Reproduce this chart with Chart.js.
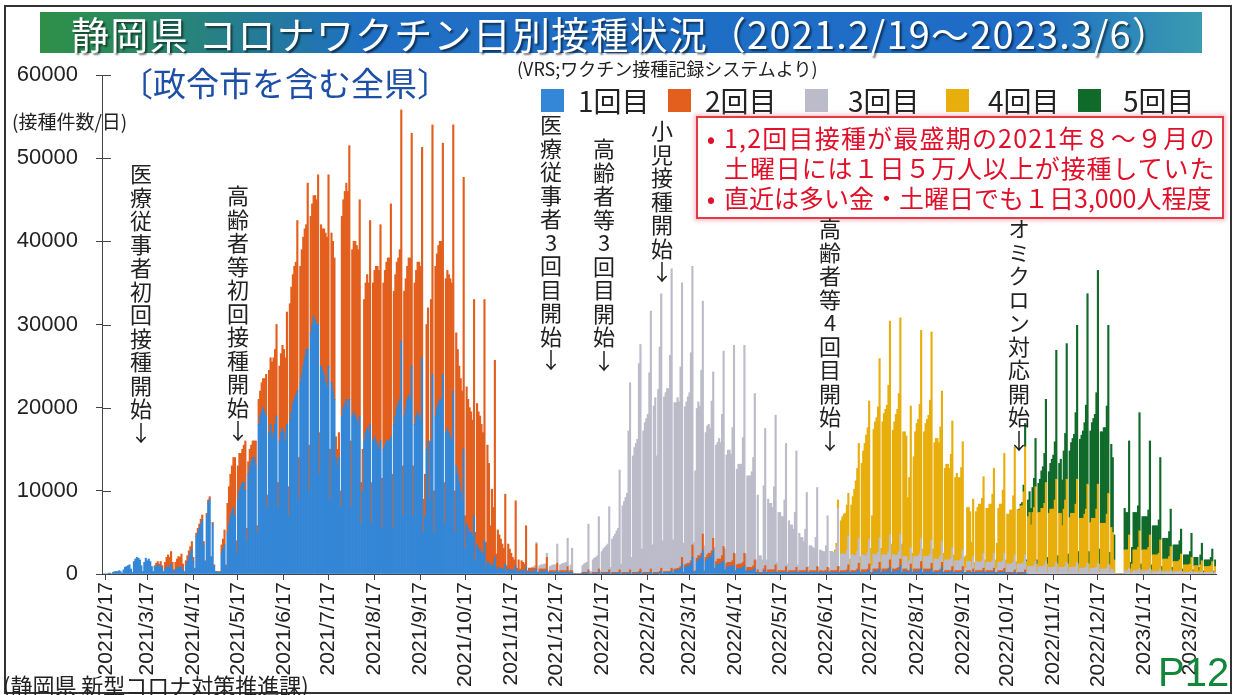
<!DOCTYPE html>
<html lang="ja">
<head>
<meta charset="utf-8">
<title>静岡県 コロナワクチン日別接種状況</title>
<script src="https://cdn.jsdelivr.net/npm/chart.js@4.4.1/dist/chart.umd.min.js"></script>
<style>
  html, body { margin: 0; padding: 0; background: #fff; }
  #wrap { position: relative; width: 1236px; height: 695px; overflow: hidden;
          font-family: 'Noto Sans CJK JP', sans-serif; color: #222; }
  #chart { position: absolute; left: 0; top: 0; }
  .abs { position: absolute; white-space: nowrap; }
  #frame { position: absolute; left: 4px; top: 5px; width: 1224px; height: 685px; border: 2px solid #333; }
  #banner { position: absolute; left: 40px; top: 12px; width: 1162px; height: 41px;
            background: linear-gradient(90deg, #2f8f47 0%, #2a8a62 8%, #1f6fc4 28%, #1e6cc6 85%, #3a9bb0 100%);
            display: flex; align-items: center; justify-content: center; }
  #banner span { color: #fff; font-size: 38px; line-height: 1; letter-spacing: 1.2px;
                 text-shadow: 2px 2px 2px rgba(0,0,0,0.55); }
  .vnote { position: absolute; writing-mode: vertical-rl; text-orientation: upright;
           font-size: 22px; letter-spacing: 1.5px; line-height: 1; color: #222; }
  .sw { position: absolute; width: 23px; height: 23px; top: 89px; }
  .lg { position: absolute; top: 82px; font-size: 28px; line-height: 36px; color: #222; }
  #note { position: absolute; left: 696px; top: 116px; width: 524px; height: 95px;
          border: 2px solid #e53a44; background: #fff; box-shadow: 0 0 4px 2px rgba(240,130,150,0.45);
          color: #e0102a; font-size: 25px; line-height: 30px; padding-top: 4px; box-sizing: content-box; }
  #note div { white-space: nowrap; }
  #note .b { display: inline-block; width: 26px; text-align: center; letter-spacing: 0; }
</style>
</head>
<body>
<div id="wrap">
  <canvas id="chart" width="1236" height="695"></canvas>
  <div id="frame"></div>
  <div id="banner"><span>静岡県 コロナワクチン日別接種状況（2021.2/19～2023.3/6）</span></div>
  <div class="abs" style="left:120px;top:62px;font-size:33px;color:#1d4fa5;line-height:40px;">〔政令市を含む全県〕</div>
  <div class="abs" style="left:517px;top:56px;font-size:18px;line-height:24px;">(VRS;ワクチン接種記録システムより)</div>
  <div class="abs" style="left:12px;top:109px;font-size:19px;line-height:24px;">(接種件数/日)</div>

  <div class="sw" style="left:541px;background:#3486d6"></div><div class="lg" style="left:578px">1回目</div>
  <div class="sw" style="left:668px;background:#e35f1d"></div><div class="lg" style="left:705px">2回目</div>
  <div class="sw" style="left:805px;background:#bcbbc9"></div><div class="lg" style="left:848px">3回目</div>
  <div class="sw" style="left:946px;background:#e8ae0c"></div><div class="lg" style="left:988px">4回目</div>
  <div class="sw" style="left:1078px;background:#106b2a"></div><div class="lg" style="left:1123px">5回目</div>

  <div id="note">
    <div style="letter-spacing:1.2px"><span class="b">•</span>1,2回目接種が最盛期の2021年８～９月の</div>
    <div style="letter-spacing:0.9px"><span class="b"></span>土曜日には１日５万人以上が接種していた</div>
    <div><span class="b">•</span>直近は多い金・土曜日でも１日3,000人程度</div>
  </div>

  <div class="vnote" style="left:130px;top:163px">医療従事者初回接種開始↓</div>
  <div class="vnote" style="left:227px;top:185px">高齢者等初回接種開始↓</div>
  <div class="vnote" style="left:540px;top:114px">医療従事者3回目開始↓</div>
  <div class="vnote" style="left:593px;top:138px">高齢者等3回目開始↓</div>
  <div class="vnote" style="left:651px;top:120px">小児接種開始↓</div>
  <div class="vnote" style="left:819px;top:218px">高齢者等4回目開始↓</div>
  <div class="vnote" style="left:1008px;top:218px">オミクロン対応開始↓</div>

  <div class="abs" style="left:3px;top:670px;font-size:22px;line-height:28px;">(静岡県 新型コロナ対策推進課)</div>
  <div class="abs" style="left:1158px;top:651px;font-size:40px;line-height:42px;color:#12873a;font-family:'Liberation Sans Narrow','Liberation Sans',sans-serif;">P12</div>
</div>

<script>
// monthly tick labels on the date axis
const monthTicks = [
  '2021/2/17', '2021/3/17', '2021/4/17', '2021/5/17', '2021/6/17', '2021/7/17',
  '2021/8/17', '2021/9/17', '2021/10/17', '2021/11/17', '2021/12/17', '2022/1/17',
  '2022/2/17', '2022/3/17', '2022/4/17', '2022/5/17', '2022/6/17', '2022/7/17',
  '2022/8/17', '2022/9/17', '2022/10/17', '2022/11/17', '2022/12/17', '2023/1/17',
  '2023/2/17'
];

const seriesNames = ['1回目', '2回目', '3回目', '4回目', '5回目'];
const seriesColors = ['#3486d6', '#e35f1d', '#bcbbc9', '#e8ae0c', '#106b2a'];

// daily doses, one row per week (Mon..Sun)
const firstDoseStart = '2021/2/15';
const firstDose = [
  [0,0,0,0,100,100,0],
  [200,300,300,300,400,300,100],
  [500,800,900,1000,1100,600,200],
  [1500,1800,2000,1900,1700,1000,300],
  [1400,1900,1600,1800,1500,900,300],
  [800,1000,1100,900,1000,600,200],
  [600,800,900,700,1200,500,200],
  [500,700,800,800,900,400,100],
  [1000,1500,2000,2500,3000,1500,500],
  [4500,5000,5500,6000,6500,3500,1500],
  [7000,8500,9000,2000,6000,1000,300],
  [200,200,200,2500,3000,3500,800],
  [5000,6000,7000,7500,8000,7000,2500],
  [9000,10000,10500,11000,11000,10000,4000],
  [12000,13000,13500,14000,14000,13000,5000],
  [18000,19000,19500,20000,19500,19000,8000],
  [17000,18000,16500,17000,18000,19000,8000],
  [16000,17000,17500,17000,16000,18000,7000],
  [18500,19500,20500,21000,21500,22000,9000],
  [23000,24000,25000,26000,27000,27000,10000],
  [29000,30000,31000,30500,30000,30000,12000],
  [25000,24500,24000,23000,22500,25000,9000],
  [23000,22000,21000,14000,13000,14000,8000],
  [19000,20000,20500,21000,20000,21000,8000],
  [19000,19500,19000,18500,18000,19000,6000],
  [10000,16000,17000,17500,17000,18000,6000],
  [16000,16500,16000,15500,15000,16000,5500],
  [15000,15500,16000,16000,16000,16500,5500],
  [18000,19000,20000,20500,21000,28000,7000],
  [19000,20000,21000,21500,21000,25000,7000],
  [18000,19000,19500,19000,18500,26000,5000],
  [7000,15000,16000,9000,16000,24000,5000],
  [19000,20000,20500,21000,21000,24000,6000],
  [17000,17500,17000,16500,16000,22000,5000],
  [13000,12000,11000,10000,9000,15000,3000],
  [6000,5500,5000,5000,4500,7000,1500],
  [3500,3000,3000,2500,2500,4000,800],
  [1500,1300,800,1200,1000,2000,400],
  [800,700,700,600,600,1200,200],
  [600,500,500,500,400,1000,200],
  [400,200,400,400,300,800,100],
  [300,300,300,300,300,600,100],
  [300,300,300,300,300,500,100],
  [200,200,200,200,200,400,100],
  [200,200,200,200,200,300,100],
  [200,200,0,0,0,0,0],
  [0,100,100,100,100,200,0],
  [0,100,100,100,100,200,0],
  [100,100,100,100,100,200,0],
  [100,100,100,100,100,200,0],
  [100,100,100,100,100,200,0],
  [100,100,100,100,100,200,0],
  [100,100,100,100,100,200,0],
  [100,100,100,100,100,300,0],
  [200,200,200,200,200,400,100],
  [400,400,500,500,600,1200,100],
  [800,900,1000,1000,1200,2000,200],
  [300,1500,1800,1800,2000,2800,300],
  [1500,1800,2000,2000,2200,2800,500],
  [1000,1200,1200,1200,1500,1500,300],
  [800,900,900,900,1000,1000,200],
  [600,700,700,700,800,1000,200],
  [400,400,400,400,500,700,100],
  [200,100,100,100,300,400,100],
  [200,200,200,200,200,300,100],
  [200,200,200,200,200,300,100],
  [200,200,200,200,200,300,100],
  [200,200,200,200,200,300,100],
  [200,200,200,200,200,300,100],
  [200,200,100,200,200,300,100],
  [200,200,200,200,200,300,100],
  [200,200,200,200,200,400,100],
  [200,200,200,200,300,500,100],
  [200,200,200,200,300,500,100],
  [100,300,300,300,300,600,100],
  [300,300,300,300,400,800,100],
  [300,300,300,400,400,1000,100],
  [300,300,300,200,200,600,100],
  [300,300,300,300,300,700,100],
  [300,300,300,300,300,600,100],
  [200,200,200,200,300,800,100],
  [200,200,200,200,200,400,100],
  [200,200,200,200,200,400,100],
  [100,200,200,200,100,300,100],
  [200,200,200,200,200,300,100],
  [200,200,200,200,200,300,100],
  [100,200,200,200,200,300,100],
  [100,100,100,100,100,200,0],
  [100,100,100,100,100,200,0]
];

const secondDoseStart = '2021/3/22';
const secondDose = [
  [200,300,400,300,500,400,100],
  [800,1200,1400,1300,1500,900,300],
  [900,1100,1300,1200,1500,800,200],
  [600,700,800,800,900,500,200],
  [400,500,500,600,600,400,100],
  [300,400,300,100,200,100,0],
  [100,100,100,1000,1200,1800,300],
  [3500,4500,5000,5500,6000,7000,1500],
  [4000,4500,4000,4000,4500,6000,1500],
  [1500,2000,2000,2000,2000,3000,800],
  [3000,3000,3500,3500,4000,5000,1500],
  [7500,8000,9000,9000,9000,11000,3000],
  [9000,9500,10000,10000,10000,13500,3500],
  [14000,15000,15500,16000,16000,20500,5000],
  [14000,15000,15500,15500,15000,20000,5500],
  [14000,14500,14500,15000,15000,18000,5000],
  [17000,17000,17500,18000,18000,23000,6000],
  [18000,18000,17000,2500,2000,3000,2000],
  [24000,25000,25500,26000,26000,30500,8000],
  [20000,20500,21000,21000,21000,26000,5000],
  [5000,17000,18000,18500,18000,24500,5000],
  [19000,20000,21000,21500,21500,26000,6000],
  [20000,21000,21500,22000,22000,28000,6500],
  [16000,17000,17500,17500,18000,27800,6000],
  [15000,15500,16000,16500,17000,28000,6000],
  [17000,17500,18000,18500,18500,25300,4000],
  [5000,15000,16000,7000,17000,30000,5000],
  [18000,18500,19000,19000,19000,27800,5000],
  [18500,19000,19000,19000,19000,32000,5000],
  [16000,15000,14000,13500,13000,32700,4000],
  [16500,15500,15000,14500,14000,26000,3500],
  [17000,16500,16000,15500,14500,29000,3000],
  [14000,12000,5000,9000,7000,23700,2000],
  [4500,4000,3500,3000,2500,8400,800],
  [3000,2500,2000,1500,1300,7800,500],
  [1300,400,1200,1000,900,5000,300],
  [400,400,400,400,400,3000,100],
  [300,300,300,300,300,1500,100],
  [200,200,200,200,200,900,100],
  [200,200,200,200,200,600,100],
  [200,200,0,0,0,0,0],
  [0,100,100,100,100,300,0],
  [0,100,100,100,100,400,0],
  [100,100,100,100,100,300,0],
  [100,100,100,100,100,300,0],
  [100,100,100,100,100,300,0],
  [100,100,100,100,200,400,0],
  [100,100,100,100,100,400,0],
  [100,100,100,100,200,400,0],
  [100,100,100,100,100,300,0],
  [200,200,200,200,300,800,100],
  [300,300,300,300,400,1500,100],
  [100,400,400,400,500,2000,100],
  [500,500,500,500,600,1500,200],
  [500,600,600,600,700,1800,200],
  [500,500,500,500,600,1500,200],
  [500,500,500,500,600,1500,200],
  [400,400,400,400,500,1000,100],
  [300,100,100,100,300,600,100],
  [300,300,300,300,300,800,100],
  [200,200,200,200,200,600,100],
  [200,200,200,200,200,500,100],
  [200,200,200,200,200,500,100],
  [200,200,200,200,200,600,100],
  [200,200,200,200,200,500,100],
  [200,200,200,200,200,600,100],
  [200,200,200,200,300,700,100],
  [200,200,200,200,300,800,100],
  [300,300,300,300,300,700,100],
  [100,300,300,300,300,800,100],
  [300,300,300,300,300,900,100],
  [300,300,300,300,400,800,100],
  [300,300,300,200,200,600,100],
  [300,300,300,300,300,800,100],
  [300,300,300,300,300,700,100],
  [200,200,200,200,300,600,100],
  [200,200,200,200,200,500,100],
  [200,200,200,200,200,500,100],
  [100,200,200,200,100,300,100],
  [200,200,200,200,200,400,100],
  [200,200,200,200,200,400,100],
  [100,200,200,200,200,400,100],
  [100,100,100,100,100,300,0],
  [100,100,100,100,100,300,0]
];

const thirdDoseStart = '2021/11/29';
const thirdDose = [
  [0,0,100,200,300,200,0],
  [400,500,500,600,600,500,100],
  [500,600,700,700,700,2300,200],
  [700,800,900,900,1000,3400,300],
  [700,2700,100,0,0,0,0],
  [0,800,1000,1100,1200,5500,300],
  [300,1500,1700,1800,2000,6300,400],
  [2500,2800,3000,3200,3400,7600,800],
  [4000,4300,4600,5000,5300,12000,1200],
  [8000,8500,9000,9500,17000,22500,2000],
  [14000,15000,15500,16000,25000,27000,3000],
  [17000,18000,18500,19000,24000,31000,3500],
  [20000,21000,14000,22000,27000,33000,4000],
  [21000,21500,22000,22000,26000,36000,4000],
  [20000,20000,20500,20000,24000,33000,3500],
  [19000,19500,20000,20500,25000,33500,3500],
  [12000,18000,18500,18000,22000,28000,3000],
  [15000,15500,15500,15000,18000,20000,2500],
  [14000,14000,14500,14000,17000,23500,2500],
  [13000,13500,13500,13000,16000,25000,2000],
  [11500,12000,12000,12000,15000,25000,2000],
  [11000,11000,11000,11500,13000,20000,1500],
  [9000,2000,2000,1500,10000,16500,1500],
  [8500,8000,8000,7500,10000,18000,1200],
  [7000,7000,6500,6500,8500,14800,1000],
  [6000,5500,5500,5000,7000,14000,900],
  [4500,4000,4000,3500,5000,9000,700],
  [3000,3000,2800,2700,4000,9500,600],
  [2500,2400,2400,2300,3000,6200,500],
  [2300,2300,2200,2200,2800,7000,500],
  [2000,2000,2000,1900,2300,3500,400],
  [1900,1900,1800,1800,2100,3000,400],
  [1800,1800,1700,1700,2000,3000,400],
  [800,1800,1700,1700,2000,3000,400],
  [1700,1700,1700,1700,2000,3000,400],
  [1700,1700,1600,1600,1900,3000,400],
  [1500,1500,1500,800,1200,2000,300],
  [1500,1500,1500,1500,1800,2800,300],
  [1500,1500,1500,1500,1800,2800,300],
  [1400,1400,1400,1400,1600,2500,300],
  [1300,1300,1300,1300,1500,2300,300],
  [1200,1200,1200,1200,1400,2000,300],
  [500,1100,1100,1100,600,1500,200],
  [1100,1100,1000,1000,1200,1800,300],
  [1000,1000,1000,1000,1200,1800,300],
  [500,1000,1000,1000,1200,1800,300],
  [1000,1000,1000,1000,1200,1800,300],
  [1000,1000,1000,1000,1200,1800,300],
  [900,900,900,900,1000,1500,200],
  [900,900,900,900,1000,1500,200],
  [800,800,800,800,900,1400,200],
  [800,800,800,800,900,1400,200],
  [800,800,800,800,900,1400,200],
  [700,700,700,700,800,1300,200],
  [700,700,700,700,800,1300,200],
  [600,600,600,600,700,1200,200],
  [600,500,200,0,0,0,0],
  [0,0,400,400,400,700,100],
  [200,400,400,400,400,700,100],
  [400,400,400,400,400,700,100],
  [300,300,300,300,300,600,100],
  [300,300,300,300,300,500,100],
  [300,300,300,300,300,400,100],
  [200,200,200,200,200,400,100],
  [200,200,200,100,200,300,100],
  [200,200,200,200,200,300,100],
  [200]
];

const fourthDoseStart = '2022/6/20';
const fourthDose = [
  [0,0,0,300,500,1000,200],
  [4000,4500,4800,5000,5500,5100,1200],
  [6000,7000,8000,9000,10000,11400,1500],
  [11000,12500,13500,14500,15000,16600,2500],
  [6000,15000,16000,16500,17500,21500,2500],
  [16000,17000,17500,18000,20000,25700,3000],
  [15000,16000,17000,17500,19000,26000,3000],
  [15000,15000,14500,8000,10000,17000,2000],
  [12000,15000,16000,16500,18000,25000,2500],
  [15000,16000,16500,17000,18500,25000,2500],
  [14000,14500,14500,14000,15500,18100,2000],
  [11000,11500,11500,11000,12500,15200,1800],
  [10000,10500,10000,10000,11000,13000,1500],
  [1500,6500,6500,6000,3000,6900,1000],
  [6000,6500,7000,7000,7500,9200,1200],
  [6500,6500,7000,7000,8000,10200,1200],
  [3000,6500,7000,7000,8500,12000,1200],
  [6000,6000,6500,6500,8000,13000,1200],
  [6500,6500,7000,7000,8500,13000,1200],
  [6000,6500,5000,6500,7000,9000,1000],
  [6500,6500,7000,7000,7500,9500,1000],
  [6500,7000,7000,7000,8000,10000,1000],
  [6500,6500,5000,7000,8000,10000,1000],
  [6000,6500,6500,6500,7500,10000,1000],
  [6000,6000,6000,6500,7000,9500,1000],
  [5500,6000,6000,6000,7000,9500,1000],
  [5500,5500,5500,5500,6500,8500,900],
  [5000,4500,1500,0,0,0,0],
  [0,0,2500,2500,2500,4000,500],
  [1000,2500,2500,2500,2800,4500,400],
  [2500,2500,2500,2500,2800,4000,400],
  [2000,2000,2000,2000,2200,3500,300],
  [1500,1500,1500,1500,1800,2800,300],
  [1200,1200,1200,1200,1400,2000,200],
  [900,900,900,900,1000,1600,200],
  [800,800,800,300,900,1300,100],
  [700,700,700,700,800,1200,100],
  [700]
];

const fifthDoseStart = '2022/10/24';
const fifthDose = [
  [0,100,200,400,800,2800,200],
  [2000,2500,2000,3000,3500,5800,500],
  [3500,4000,4500,5000,6000,10000,800],
  [5000,5500,6000,6500,7000,15500,1000],
  [6000,6500,5500,7000,8000,16300,1200],
  [8000,8500,9000,9500,11000,18500,1500],
  [9500,10000,10500,11000,12500,22900,1500],
  [11000,11500,12000,12500,14000,25700,1800],
  [11000,11000,11500,11500,13000,20200,1500],
  [10000,9000,3000,0,0,0,0],
  [0,0,5000,4500,4500,11300,800],
  [2000,4500,4500,4500,5000,14200,700],
  [4000,4000,4000,4000,4500,11300,600],
  [3500,3500,3500,3500,4000,9900,500],
  [2500,2500,2500,2500,3000,4500,400],
  [2000,2000,2000,2000,2300,3000,300],
  [1200,1200,1200,1200,1500,2900,200],
  [1000,1000,1000,400,1200,2100,150],
  [800,800,800,800,1000,1500,150],
  [800]
];

// one category per day, 2021/2/15 .. 2023/3/6
const days = [];
for (let d = new Date(2021, 1, 15); d <= new Date(2023, 2, 6); d.setDate(d.getDate() + 1)) {
  days.push(d.getFullYear() + '/' + (d.getMonth() + 1) + '/' + d.getDate());
}
const tickSet = new Set(monthTicks);

function placeSeries(start, weeks) {
  const out = new Array(days.length).fill(null);
  const i0 = days.indexOf(start);
  weeks.flat().forEach((v, i) => {
    if (i0 + i < days.length) out[i0 + i] = v;
  });
  return out;
}

const seriesData = [
  placeSeries(firstDoseStart, firstDose),
  placeSeries(secondDoseStart, secondDose),
  placeSeries(thirdDoseStart, thirdDose),
  placeSeries(fourthDoseStart, fourthDose),
  placeSeries(fifthDoseStart, fifthDose)
];

// small tick marks on the inner side of the y axis, like the original
const innerTicks = {
  id: 'innerTicks',
  afterDraw(chart) {
    const { ctx, chartArea } = chart;
    const y = chart.scales.y;
    ctx.save();
    ctx.strokeStyle = '#444';
    ctx.lineWidth = 1;
    y.ticks.forEach(t => {
      const py = Math.round(y.getPixelForValue(t.value)) + 0.5;
      ctx.beginPath();
      ctx.moveTo(chartArea.left, py);
      ctx.lineTo(chartArea.left + 9, py);
      ctx.stroke();
    });
    ctx.restore();
  }
};

const ctx = document.getElementById('chart');
new Chart(ctx, {
  type: 'bar',
  data: {
    labels: days,
    datasets: seriesNames.map((name, i) => ({
      label: name,
      data: seriesData[i],
      backgroundColor: seriesColors[i],
      borderWidth: 0,
      barPercentage: 1,
      categoryPercentage: 1
    }))
  },
  options: {
    responsive: false,
    animation: false,
    layout: { padding: { top: 75, right: 20, left: 0, bottom: 0 } },
    plugins: { legend: { display: false }, tooltip: { enabled: false } },
    scales: {
      x: {
        stacked: true,
        ticks: {
          autoSkip: false,
          minRotation: 90,
          maxRotation: 90,
          padding: 2,
          color: '#222',
          font: { family: "'Liberation Sans', Arial, sans-serif", size: 21 },
          callback: (v, i) => tickSet.has(days[i]) ? days[i] : null
        },
        grid: {
          drawOnChartArea: false,
          offset: false,
          tickLength: 6,
          color: c => (c.tick && c.tick.label) ? '#444' : 'rgba(0,0,0,0)'
        },
        border: { color: '#444', width: 1 },
        afterFit: s => { s.height = 695 - 574; }
      },
      y: {
        stacked: true,
        min: 0,
        max: 60000,
        ticks: {
          stepSize: 10000,
          padding: 18,
          color: '#222',
          font: { family: "'Liberation Sans', Arial, sans-serif", size: 22 },
          callback: v => String(v)
        },
        grid: { drawOnChartArea: false, tickLength: 6, color: '#444' },
        border: { color: '#444', width: 1 },
        afterFit: s => { s.width = 102; }
      }
    }
  },
  plugins: [innerTicks]
});
</script>
</body>
</html>
